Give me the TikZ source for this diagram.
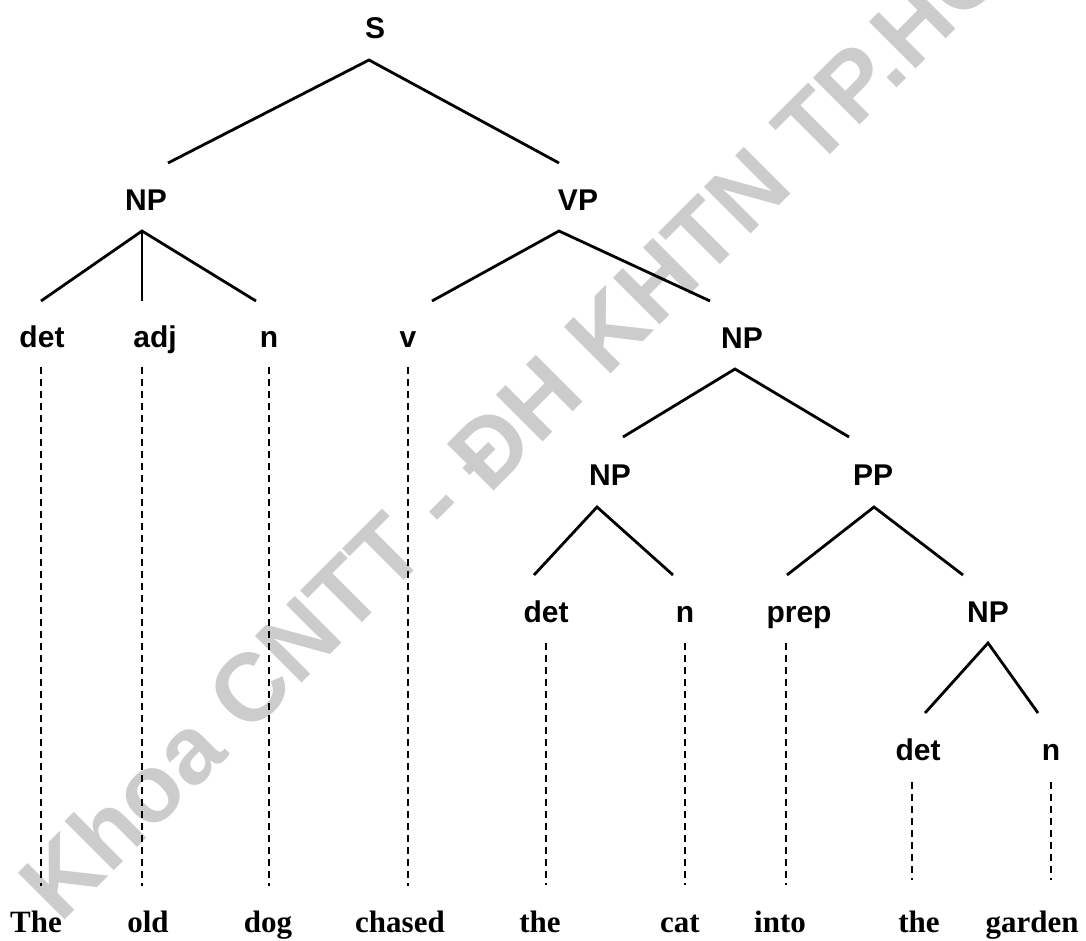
\documentclass[tikz,border=0pt]{standalone}
\usepackage{fontspec}
\newfontfamily\labfamily{Liberation Sans}
\newfontfamily\wordfamily{Liberation Serif}
\definecolor{wmgray}{RGB}{204,204,204}
\tikzset{
  lab/.style={font={\labfamily\bfseries\fontsize{30}{36}\selectfont}, anchor=base, inner sep=0pt},
  word/.style={font={\wordfamily\bfseries\fontsize{31}{37}\selectfont}, anchor=base, inner sep=0pt},
  branch/.style={line width=2.8pt},
  lead/.style={line width=2pt, dash pattern=on 7pt off 5pt},
  wmark/.style={font={\labfamily\bfseries\fontsize{96}{110}\selectfont}, text=wmgray, inner sep=0pt, rotate=45, anchor=base west}
}
\begin{document}
\begin{tikzpicture}[x=1pt, y=-1pt]
\useasboundingbox (0,0) rectangle (1086,940);

% background mark
\begin{scope}
  \clip (0,0) rectangle (1086,940);
  \node[wmark] (wm) at (60,925) {Khoa CNTT - ĐH KHTN TP.HCM};
\end{scope}

% category labels
\node[lab] (S)   at (375,38)  {S};
\node[lab] (NP1) at (146,210) {NP};
\node[lab] (VP)  at (578,210) {VP};
\node[lab] (det1) at (42,347)  {det};
\node[lab] (adj1) at (155,347) {adj};
\node[lab] (n1)   at (269,347) {n};
\node[lab] (v1)   at (408,347) {v};
\node[lab] (NP2)  at (742,348) {NP};
\node[lab] (NP3)  at (610,485) {NP};
\node[lab] (PP)   at (873,485) {PP};
\node[lab] (det3) at (546,622) {det};
\node[lab] (n3)   at (685,622) {n};
\node[lab] (prep) at (799,622) {prep};
\node[lab] (NP4)  at (988,622) {NP};
\node[lab] (det4) at (918,760) {det};
\node[lab] (n4)   at (1051,760) {n};

% words
\node[word] (w1) at (36,932)  {The};
\node[word] (w2) at (148,932) {old};
\node[word] (w3) at (268,932) {dog};
\node[word] (w4) at (400,932) {chased};
\node[word] (w5) at (540,932) {the};
\node[word] (w6) at (680,932) {cat};
\node[word] (w7) at (780,932) {into};
\node[word] (w8) at (919,932) {the};
\node[word] (w9) at (1032,932) {garden};

% branch end points
\coordinate (S-a)   at (369,60);
\coordinate (NP1-t) at (168,163);
\coordinate (VP-t)  at (559,163);
\coordinate (NP1-a) at (142,231);
\coordinate (det1-t) at (41,301);
\coordinate (adj1-t) at (142,301);
\coordinate (n1-t)   at (256,301);
\coordinate (VP-a)  at (559,231);
\coordinate (v1-t)  at (432,301);
\coordinate (NP2-t) at (710,301);
\coordinate (NP2-a) at (735,369);
\coordinate (NP3-t) at (623,437);
\coordinate (PP-t)  at (849,437);
\coordinate (NP3-a) at (597,507);
\coordinate (det3-t) at (534,575);
\coordinate (n3-t)   at (673,575);
\coordinate (PP-a)  at (874,507);
\coordinate (prep-t) at (787,575);
\coordinate (NP4-t)  at (963,575);
\coordinate (NP4-a) at (988,643);
\coordinate (det4-t) at (925,713);
\coordinate (n4-t)   at (1038,713);

% tree branches
\draw[branch] (NP1-t) -- (S-a) -- (VP-t);
\draw[branch] (det1-t) -- (NP1-a) -- (n1-t);
\draw[branch] (NP1-a) -- (adj1-t);
\draw[branch] (v1-t) -- (VP-a) -- (NP2-t);
\draw[branch] (NP3-t) -- (NP2-a) -- (PP-t);
\draw[branch] (det3-t) -- (NP3-a) -- (n3-t);
\draw[branch] (prep-t) -- (PP-a) -- (NP4-t);
\draw[branch] (det4-t) -- (NP4-a) -- (n4-t);

% leader lines from categories down to words
\coordinate (det1-b) at (41,367);  \coordinate (w1-t) at (41,886);
\coordinate (adj1-b) at (142,367); \coordinate (w2-t) at (142,886);
\coordinate (n1-b)   at (269,367); \coordinate (w3-t) at (269,886);
\coordinate (v1-b)   at (408,367); \coordinate (w4-t) at (408,886);
\coordinate (det3-b) at (546,643); \coordinate (w5-t) at (546,885);
\coordinate (n3-b)   at (685,643); \coordinate (w6-t) at (685,885);
\coordinate (prep-b) at (786,643); \coordinate (w7-t) at (786,885);
\coordinate (det4-b) at (912,782); \coordinate (w8-t) at (912,880);
\coordinate (n4-b)   at (1051,782); \coordinate (w9-t) at (1051,880);
\foreach \a/\b in {det1/w1, adj1/w2, n1/w3, v1/w4, det3/w5, n3/w6, prep/w7, det4/w8, n4/w9}
  \draw[lead] (\a-b) -- (\b-t);
\end{tikzpicture}
\end{document}
